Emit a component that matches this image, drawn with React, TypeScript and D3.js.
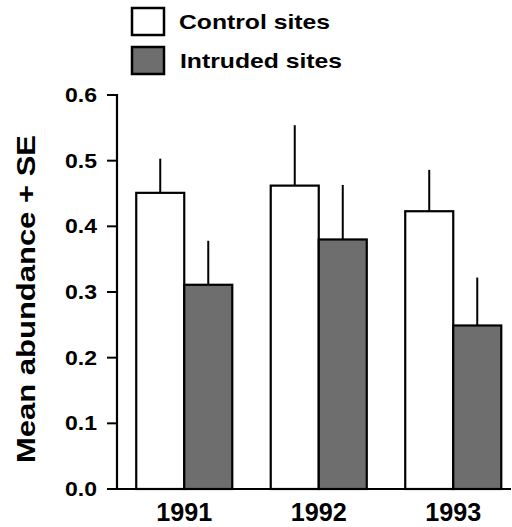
import React, { useEffect, useRef } from 'react';
import * as d3 from 'd3';

const years = ['1991', '1992', '1993'];
const seriesNames = ['Control sites', 'Intruded sites'];
const controlMeans = [0.451, 0.462, 0.423];
const controlSE = [0.052, 0.092, 0.063];
const intrudedMeans = [0.311, 0.380, 0.249];
const intrudedSE = [0.067, 0.083, 0.073];
const yTicks = [0.0, 0.1, 0.2, 0.3, 0.4, 0.5, 0.6];

const fills = ['#ffffff', '#6e6e6e'];

export default function App() {
  const svgRef = useRef<SVGSVGElement | null>(null);

  useEffect(() => {
    if (!svgRef.current) return;
    const width = 512;
    const height = 527;

    const svg = d3.select(svgRef.current);
    svg.selectAll('*').remove();
    svg.attr('width', width).attr('height', height)
      .style('font-family', 'Liberation Sans, Arial, sans-serif')
      .style('font-weight', 'bold');

    const axisX = 117;
    const y = d3.scaleLinear().domain([0, 0.6]).range([489, 95]);
    const x0 = d3.scaleBand().domain(years).range([axisX, 520.5])
      .paddingInner(0.286).paddingOuter(0.143);
    const x1 = d3.scaleBand().domain(seriesNames).range([0, x0.bandwidth()]);

    const rows = years.map((yr, i) => ({
      year: yr,
      vals: [
        { s: seriesNames[0], mean: controlMeans[i], se: controlSE[i], fill: fills[0] },
        { s: seriesNames[1], mean: intrudedMeans[i], se: intrudedSE[i], fill: fills[1] },
      ],
    }));

    // error bars first so bar outlines sit on top
    const groups = svg.append('g').selectAll('g').data(rows).join('g')
      .attr('transform', d => `translate(${x0(d.year)},0)`);

    groups.selectAll('line.err').data(d => d.vals).join('line')
      .attr('class', 'err')
      .attr('x1', d => x1(d.s)! + x1.bandwidth() / 2)
      .attr('x2', d => x1(d.s)! + x1.bandwidth() / 2)
      .attr('y1', d => y(d.mean))
      .attr('y2', d => y(d.mean + d.se))
      .attr('stroke', '#000').attr('stroke-width', 2);

    groups.selectAll('rect').data(d => d.vals).join('rect')
      .attr('x', d => x1(d.s)!)
      .attr('y', d => y(d.mean))
      .attr('width', x1.bandwidth())
      .attr('height', d => y(0) - y(d.mean))
      .attr('fill', d => d.fill)
      .attr('stroke', '#000').attr('stroke-width', 2.2);

    // y axis
    const yAxis = svg.append('g');
    yAxis.append('line')
      .attr('x1', axisX).attr('x2', axisX)
      .attr('y1', y(0.6) - 1).attr('y2', y(0))
      .attr('stroke', '#000').attr('stroke-width', 2.2);
    yAxis.selectAll('line.tick').data(yTicks).join('line')
      .attr('class', 'tick')
      .attr('x1', axisX - 10).attr('x2', axisX)
      .attr('y1', d => y(d)).attr('y2', d => y(d))
      .attr('stroke', '#000').attr('stroke-width', 2);
    yAxis.selectAll('text').data(yTicks).join('text')
      .attr('x', 65).attr('y', d => y(d) + 7)
      .attr('font-size', 20)
      .attr('textLength', 32).attr('lengthAdjust', 'spacingAndGlyphs')
      .text(d => d3.format('.1f')(d));

    // baseline
    svg.append('line')
      .attr('x1', axisX - 10).attr('x2', 511)
      .attr('y1', y(0)).attr('y2', y(0))
      .attr('stroke', '#000').attr('stroke-width', 2.2);

    // x labels
    svg.append('g').selectAll('text').data(years).join('text')
      .attr('x', d => x0(d)! + x0.bandwidth() / 2 - 28)
      .attr('y', 521)
      .attr('font-size', 26)
      .attr('textLength', 56).attr('lengthAdjust', 'spacingAndGlyphs')
      .text(d => d);

    // y label
    svg.append('text')
      .attr('transform', 'translate(35,463) rotate(-90)')
      .attr('font-size', 25)
      .attr('textLength', 328).attr('lengthAdjust', 'spacingAndGlyphs')
      .text('Mean  abundance  +  SE');

    // legend
    const legY = [8, 47];
    const legLen = [151, 162];
    const leg = svg.append('g').selectAll('g').data(seriesNames).join('g');
    leg.append('rect')
      .attr('x', 132).attr('y', (d, i) => legY[i])
      .attr('width', 32).attr('height', 27)
      .attr('fill', (d, i) => fills[i])
      .attr('stroke', '#000').attr('stroke-width', 2.5);
    leg.append('text')
      .attr('x', (d, i) => 179 + i)
      .attr('y', (d, i) => legY[i] + 20.5)
      .attr('font-size', 21)
      .attr('textLength', (d, i) => legLen[i]).attr('lengthAdjust', 'spacingAndGlyphs')
      .text(d => d.replace(' ', '  '));
  }, []);

  return <svg ref={svgRef} style={{ position: 'absolute', left: 0, top: 0 }}></svg>;
}
